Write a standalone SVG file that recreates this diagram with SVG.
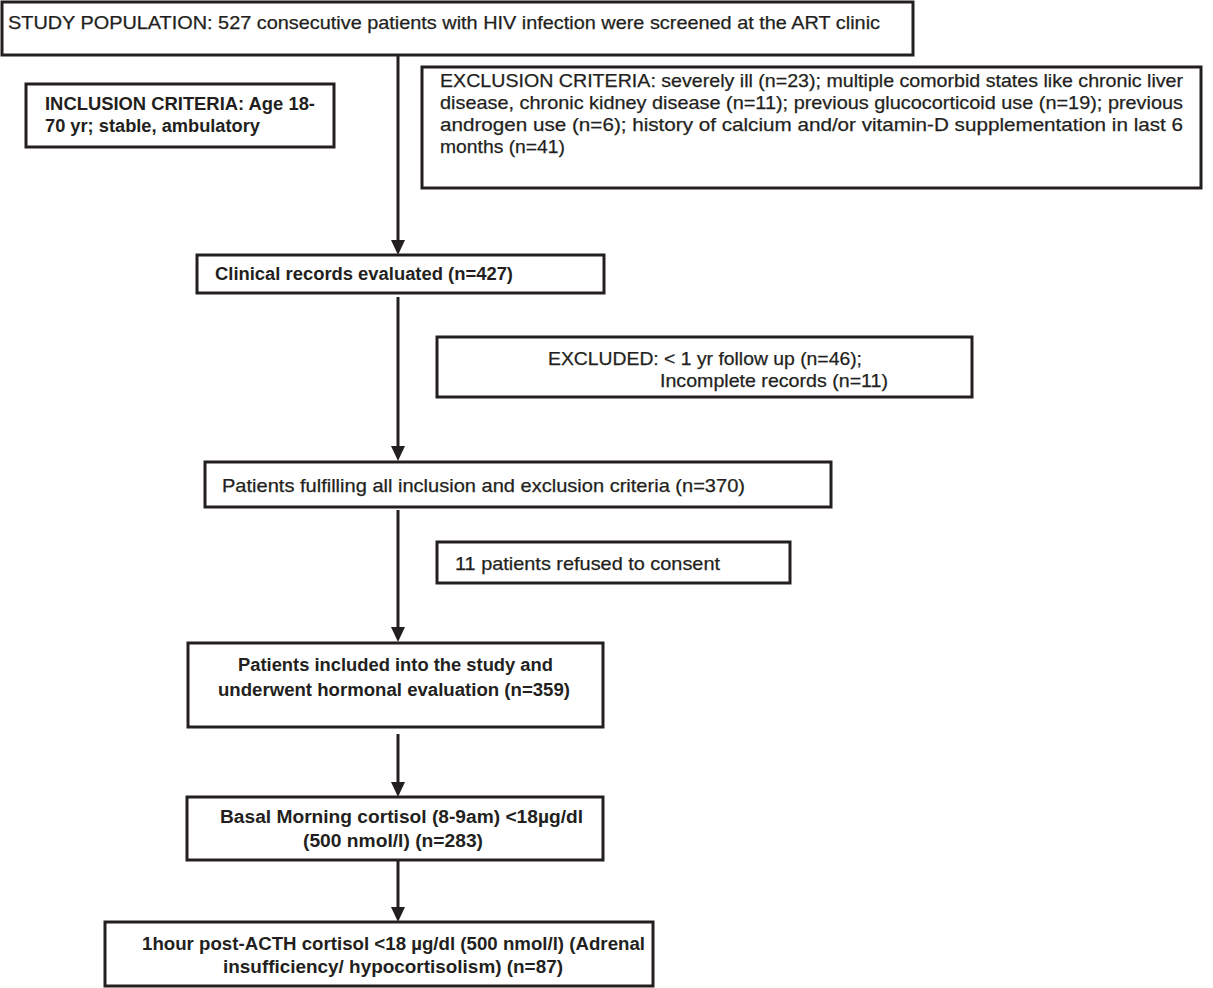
<svg xmlns="http://www.w3.org/2000/svg" width="1213" height="988" viewBox="0 0 1213 988">
<style>
.box{fill:#fff;stroke:#231f20;stroke-width:3}
.n{font-family:"Liberation Sans",Arial,sans-serif;font-size:18.5px;fill:#231f20;stroke:#231f20;stroke-width:0.25}
.b{font-family:"Liberation Sans",Arial,sans-serif;font-size:17.5px;font-weight:bold;fill:#231f20}
.c{fill:none;stroke:#231f20;stroke-width:3}
.ah{fill:#231f20}
</style>
<rect width="1213" height="988" fill="#fff"/>
<g id="connectors">
<line class="c" x1="398" y1="55" x2="398" y2="240"/>
<path class="ah" d="M391,240 L405,240 L398,255 Z"/>
<line class="c" x1="398" y1="297" x2="398" y2="446"/>
<path class="ah" d="M391,446 L405,446 L398,461 Z"/>
<line class="c" x1="398" y1="510" x2="398" y2="627"/>
<path class="ah" d="M391,627 L405,627 L398,642 Z"/>
<line class="c" x1="398" y1="734" x2="398" y2="782"/>
<path class="ah" d="M391,782 L405,782 L398,797 Z"/>
<line class="c" x1="398" y1="861" x2="398" y2="907"/>
<path class="ah" d="M391,907 L405,907 L398,922 Z"/>
</g>
<g id="study-population">
<rect class="box" x="2" y="2" width="911" height="53"/>
<text class="n" x="8" y="29" textLength="872" lengthAdjust="spacingAndGlyphs">STUDY POPULATION: 527 consecutive patients with HIV infection were screened at the ART clinic</text>
</g>
<g id="inclusion">
<rect class="box" x="26" y="84" width="308" height="63"/>
<text class="b" x="45" y="110" textLength="270" lengthAdjust="spacingAndGlyphs">INCLUSION CRITERIA: Age 18-</text>
<text class="b" x="45" y="132" textLength="215" lengthAdjust="spacingAndGlyphs">70 yr; stable, ambulatory</text>
</g>
<g id="exclusion">
<rect class="box" x="422" y="67" width="779" height="121"/>
<text class="n" x="440" y="87" textLength="743" lengthAdjust="spacingAndGlyphs">EXCLUSION CRITERIA: severely ill (n=23); multiple comorbid states like chronic liver</text>
<text class="n" x="440" y="109" textLength="743" lengthAdjust="spacingAndGlyphs">disease, chronic kidney disease (n=11); previous glucocorticoid use (n=19); previous</text>
<text class="n" x="440" y="131" textLength="743" lengthAdjust="spacingAndGlyphs">androgen use (n=6); history of calcium and/or vitamin-D supplementation in last 6</text>
<text class="n" x="440" y="153" textLength="125" lengthAdjust="spacingAndGlyphs">months (n=41)</text>
</g>
<g id="clinical-records">
<rect class="box" x="197" y="255" width="407" height="38"/>
<text class="b" x="215" y="280" textLength="298" lengthAdjust="spacingAndGlyphs">Clinical records evaluated (n=427)</text>
</g>
<g id="excluded">
<rect class="box" x="437" y="337" width="535" height="60"/>
<text class="n" x="548" y="365" textLength="314" lengthAdjust="spacingAndGlyphs">EXCLUDED: &lt; 1 yr follow up (n=46);</text>
<text class="n" x="660" y="387" textLength="228" lengthAdjust="spacingAndGlyphs">Incomplete records (n=11)</text>
</g>
<g id="fulfilling">
<rect class="box" x="205" y="462" width="626" height="45"/>
<text class="n" x="222" y="492" textLength="523" lengthAdjust="spacingAndGlyphs">Patients fulfilling all inclusion and exclusion criteria (n=370)</text>
</g>
<g id="refused">
<rect class="box" x="437" y="542" width="353" height="41"/>
<text class="n" x="455" y="570" textLength="265" lengthAdjust="spacingAndGlyphs">11 patients refused to consent</text>
</g>
<g id="included">
<rect class="box" x="188" y="643" width="415" height="84"/>
<text class="b" x="238" y="671" textLength="315" lengthAdjust="spacingAndGlyphs">Patients included into the study and</text>
<text class="b" x="218" y="696" textLength="352" lengthAdjust="spacingAndGlyphs">underwent hormonal evaluation (n=359)</text>
</g>
<g id="basal">
<rect class="box" x="187" y="797" width="416" height="63"/>
<text class="b" x="220" y="823" textLength="363" lengthAdjust="spacingAndGlyphs">Basal Morning cortisol (8-9am) &lt;18µg/dl</text>
<text class="b" x="303" y="847" textLength="180" lengthAdjust="spacingAndGlyphs">(500 nmol/l) (n=283)</text>
</g>
<g id="post-acth">
<rect class="box" x="105" y="922" width="548" height="64"/>
<text class="b" x="142" y="950" textLength="503" lengthAdjust="spacingAndGlyphs">1hour post-ACTH cortisol &lt;18 µg/dl (500 nmol/l) (Adrenal</text>
<text class="b" x="223" y="973" textLength="340" lengthAdjust="spacingAndGlyphs">insufficiency/ hypocortisolism) (n=87)</text>
</g>
</svg>
